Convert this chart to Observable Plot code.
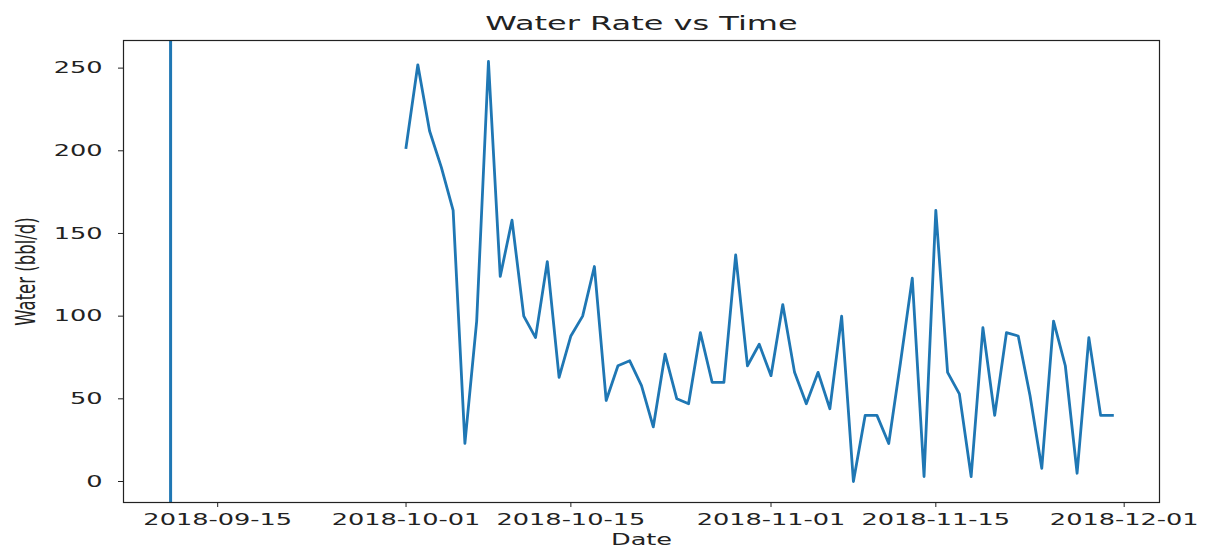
<!DOCTYPE html>
<html>
<head>
<meta charset="utf-8">
<script src="https://cdn.jsdelivr.net/npm/d3@7"></script>
<script src="https://cdn.jsdelivr.net/npm/@observablehq/plot@0.6"></script>
<style>
  html, body { margin: 0; padding: 0; background: #fff; }
  #chart { width: 1207px; height: 554px; }
</style>
</head>
<body>
<div id="chart"></div>
<script>
const title = "Water Rate vs Time";
const xLabel = "Date";
const yLabel = "Water (bbl/d)";

const dates = [
  "2018-10-01","2018-10-02","2018-10-03","2018-10-04","2018-10-05","2018-10-06","2018-10-07","2018-10-08","2018-10-09","2018-10-10",
  "2018-10-11","2018-10-12","2018-10-13","2018-10-14","2018-10-15","2018-10-16","2018-10-17","2018-10-18","2018-10-19","2018-10-20",
  "2018-10-21","2018-10-22","2018-10-23","2018-10-24","2018-10-25","2018-10-26","2018-10-27","2018-10-28","2018-10-29","2018-10-30",
  "2018-10-31","2018-11-01","2018-11-02","2018-11-03","2018-11-04","2018-11-05","2018-11-06","2018-11-07","2018-11-08","2018-11-09",
  "2018-11-10","2018-11-11","2018-11-12","2018-11-13","2018-11-14","2018-11-15","2018-11-16","2018-11-17","2018-11-18","2018-11-19",
  "2018-11-20","2018-11-21","2018-11-22","2018-11-23","2018-11-24","2018-11-25","2018-11-26","2018-11-27","2018-11-28","2018-11-29",
  "2018-11-30"
];
const water = [
  202,252,212,190,164,23,97,254,124,158,
  100,87,133,63,88,100,130,49,70,73,
  58,33,77,50,47,90,60,60,137,70,
  83,64,107,66,47,66,44,100,0,40,
  40,23,72,123,3,164,66,53,3,93,
  40,90,88,52,8,97,70,5,87,40,
  40
];
const markerDates = ["2018-09-11"];
const xTicks = ["2018-09-15","2018-10-01","2018-10-15","2018-11-01","2018-11-15","2018-12-01"];
const yTicks = [0, 50, 100, 150, 200, 250];

const parse = d3.utcParse("%Y-%m-%d");
const rows = dates.map((d, i) => ({date: parse(d), water: water[i]}));
const markers = markerDates.map(parse);

// matplotlib-style 5% margins around the data
const allX = [...rows.map(r => r.date), ...markers];
const [x0, x1] = d3.extent(allX);
const xPad = (x1 - x0) * 0.05;
const [y0, y1] = d3.extent(water);
const yPad = (y1 - y0) * 0.05;

const blue = "#1f77b4";
const ink = "#222";

const chart = Plot.plot({
  width: 1207,
  height: 554,
  marginLeft: 123,
  marginRight: 48,
  marginTop: 40,
  marginBottom: 52,
  style: {fontFamily: "'DejaVu Sans', sans-serif", fontSize: "16px", color: ink, background: "#fff"},
  x: {type: "utc", domain: [new Date(+x0 - xPad), new Date(+x1 + xPad)]},
  y: {domain: [y0 - yPad, y1 + yPad]},
  marks: [
    Plot.ruleX(markers, {x: d => d, stroke: blue, strokeWidth: 3}),
    Plot.line(rows, {x: "date", y: "water", stroke: blue, strokeWidth: 2.8, strokeLinejoin: "round", strokeLinecap: "square"}),
    Plot.frame({stroke: ink, strokeWidth: 1.2}),
    Plot.axisX({
      ticks: xTicks.map(parse),
      tickFormat: d3.utcFormat("%Y-%m-%d"),
      tickSize: 5,
      tickPadding: 6,
      fontSize: 16,
      stroke: ink,
      fill: ink,
      label: null
    }),
    Plot.axisY({
      ticks: yTicks,
      tickSize: 5,
      tickPadding: 16,
      fontSize: 16,
      stroke: ink,
      fill: ink,
      label: null
    }),
    Plot.text([title], {text: d => d, frameAnchor: "top", lineAnchor: "middle", dy: -17, fontSize: 20, fill: ink}),
    Plot.text([xLabel], {text: d => d, frameAnchor: "bottom", lineAnchor: "middle", dy: 37, fontSize: 16, fill: ink}),
    Plot.text([yLabel], {text: d => d, frameAnchor: "left", textAnchor: "middle", lineAnchor: "middle", dx: -97, rotate: -90, fontSize: 16.5, fill: ink})
  ]
});

// the reference picture is stretched horizontally; mimic that on the text glyphs
d3.select(chart).selectAll("text").each(function() {
  const el = d3.select(this);
  const t = el.attr("transform");
  if (t && /^\s*translate\([^)]*\)/.test(t)) {
    el.attr("transform", t.replace(/^\s*(translate\([^)]*\))/, "$1 scale(1.6,1)"));
  } else {
    const x = +(el.attr("x") || 0), y = +(el.attr("y") || 0);
    el.attr("x", null).attr("y", null);
    el.attr("transform", `translate(${x},${y}) scale(1.6,1)` + (t ? " " + t : ""));
  }
});

document.getElementById("chart").appendChild(chart);
</script>
</body>
</html>
